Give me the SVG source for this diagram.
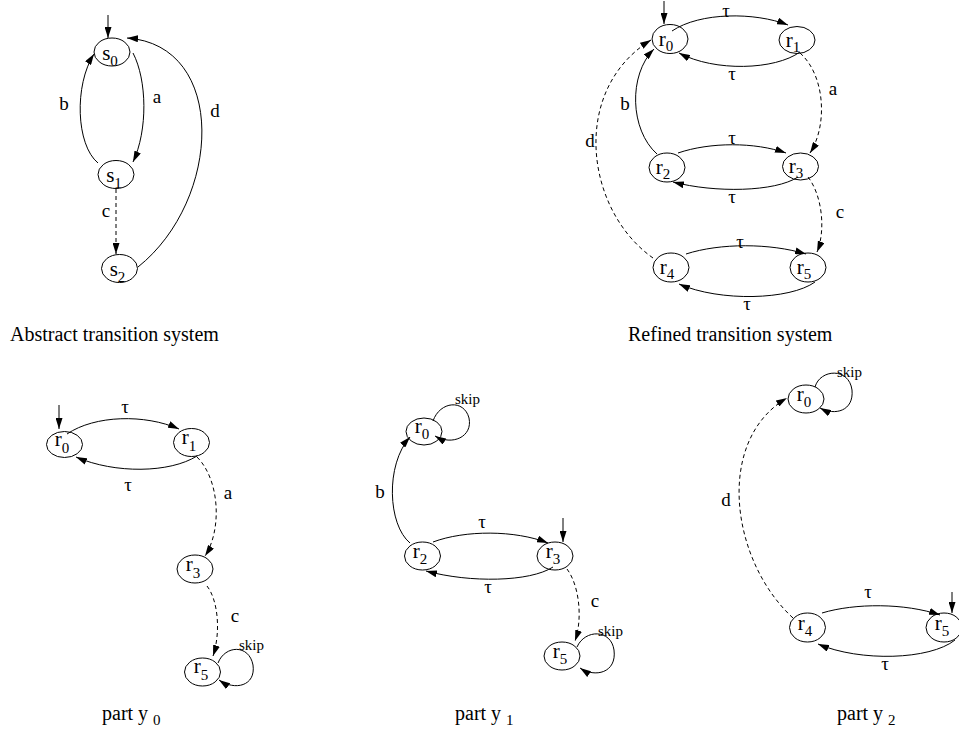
<svg xmlns="http://www.w3.org/2000/svg" width="959" height="736" viewBox="0 0 959 736">
<defs>
<marker id="ah" viewBox="0 0 11 7" refX="11" refY="3.5" markerWidth="11" markerHeight="7" orient="auto" markerUnits="userSpaceOnUse"><path d="M0,0 L11,3.5 L0,7 z" fill="#000"/></marker>
<style>
.n{fill:none;stroke:#000;stroke-width:1}
.e{fill:none;stroke:#000;stroke-width:1;marker-end:url(#ah)}
.d{stroke-dasharray:4 3}
text{font-family:"Liberation Serif","Times New Roman",serif;fill:#000}
.nl{font-size:21px;text-anchor:middle}
.sub{font-size:15px}
.el{font-size:19px;text-anchor:middle}
.sk{font-size:15px}
.cap{font-size:20px}
</style>
</defs>
<rect width="959" height="736" fill="#fff"/>

<!-- Panel 1: Abstract transition system -->
<g id="p1-s0"><ellipse class="n" cx="112" cy="52" rx="18" ry="14"/><text class="nl" x="110" y="60">s<tspan class="sub" dy="6">0</tspan></text></g>
<g id="p1-s1"><ellipse class="n" cx="116" cy="174.5" rx="18" ry="14"/><text class="nl" x="114" y="182">s<tspan class="sub" dy="6">1</tspan></text></g>
<g id="p1-s2"><ellipse class="n" cx="119.5" cy="268.5" rx="18" ry="14"/><text class="nl" x="117.5" y="276">s<tspan class="sub" dy="6">2</tspan></text></g>
<g id="p1-edges">
<path class="e" d="M108,15 L108,38"/>
<path class="e" d="M133,53 C147,80 148,130 133,162"/>
<path class="e" d="M98,163 C76,145 74,85 94,54"/>
<path class="e d" d="M116,189 L116,254"/>
<path class="e" d="M138,267 C222,200 228,45 127,38"/>
<text class="el" x="157" y="103">a</text>
<text class="el" x="64" y="110">b</text>
<text class="el" x="106" y="217">c</text>
<text class="el" x="215" y="117">d</text>
</g>
<text class="cap" x="10" y="341">Abstract transition system</text>

<!-- Panel 2: Refined transition system -->
<g id="p2-r0"><ellipse class="n" cx="670" cy="39" rx="18" ry="14.5"/><text class="nl" x="666" y="46">r<tspan class="sub" dy="5">0</tspan></text></g>
<g id="p2-r1"><ellipse class="n" cx="797" cy="40" rx="18" ry="13.5"/><text class="nl" x="793" y="47">r<tspan class="sub" dy="5">1</tspan></text></g>
<g id="p2-r2"><ellipse class="n" cx="667" cy="167.5" rx="18" ry="14.5"/><text class="nl" x="663" y="174">r<tspan class="sub" dy="5">2</tspan></text></g>
<g id="p2-r3"><ellipse class="n" cx="800.5" cy="166.5" rx="18" ry="13.5"/><text class="nl" x="796" y="173">r<tspan class="sub" dy="5">3</tspan></text></g>
<g id="p2-r4"><ellipse class="n" cx="671" cy="267.5" rx="18" ry="14.5"/><text class="nl" x="667" y="274">r<tspan class="sub" dy="5">4</tspan></text></g>
<g id="p2-r5"><ellipse class="n" cx="808" cy="267.5" rx="18" ry="14.5"/><text class="nl" x="804" y="274">r<tspan class="sub" dy="5">5</tspan></text></g>
<g id="p2-edges">
<path class="e" d="M664,1 L664,24"/>
<path class="e" d="M672,31 C700,12 755,12 788,25"/>
<path class="e" d="M800,52 C775,70 715,72 679,53"/>
<path class="e d" d="M800,53 C825,75 828,125 810,153"/>
<path class="e" d="M657,154 C630,130 628,75 654,49"/>
<path class="e d" d="M653,258 C585,210 570,90 651,40"/>
<path class="e" d="M678,153 C710,142 755,142 786,153"/>
<path class="e" d="M798,177 C775,192 715,193 673,182"/>
<path class="e d" d="M808,177 C822,195 826,230 817,252"/>
<path class="e" d="M686,254 C720,243 770,243 806,254"/>
<path class="e" d="M815,282 C790,300 720,302 679,284"/>
<text class="el" x="726" y="17">τ</text>
<text class="el" x="732" y="80">τ</text>
<text class="el" x="833" y="95">a</text>
<text class="el" x="625" y="110">b</text>
<text class="el" x="590" y="147">d</text>
<text class="el" x="732" y="144">τ</text>
<text class="el" x="732" y="203">τ</text>
<text class="el" x="840" y="218">c</text>
<text class="el" x="740" y="248">τ</text>
<text class="el" x="747" y="310">τ</text>
</g>
<text class="cap" x="628" y="341">Refined transition system</text>

<!-- Panel 3: part y0 -->
<g id="p3-r0"><ellipse class="n" cx="64.5" cy="444.5" rx="18" ry="13"/><text class="nl" x="62" y="446">r<tspan class="sub" dy="7">0</tspan></text></g>
<g id="p3-r1"><ellipse class="n" cx="191.5" cy="442.5" rx="18" ry="14"/><text class="nl" x="189" y="444">r<tspan class="sub" dy="7">1</tspan></text></g>
<g id="p3-r3"><ellipse class="n" cx="195" cy="569" rx="18" ry="14"/><text class="nl" x="193" y="571">r<tspan class="sub" dy="7">3</tspan></text></g>
<g id="p3-r5"><ellipse class="n" cx="202.5" cy="672" rx="18" ry="14"/><text class="nl" x="201" y="673">r<tspan class="sub" dy="7">5</tspan></text></g>
<g id="p3-edges">
<path class="e" d="M59,405 L59,429"/>
<path class="e" d="M67,434 C95,415 145,414 179,429"/>
<path class="e" d="M197,456 C170,473 115,474 76,457"/>
<path class="e d" d="M197,457 C220,480 222,530 205,556"/>
<path class="e d" d="M207,586 C218,600 221,632 213,656"/>
<path class="e" d="M218,663 C225,645 249,644 253,665 C256,686 235,691 219,680"/>
<text class="el" x="125" y="413">τ</text>
<text class="el" x="128" y="491">τ</text>
<text class="el" x="228" y="499">a</text>
<text class="el" x="235" y="622">c</text>
<text class="sk" x="239" y="650">skip</text>
</g>
<text class="cap" x="102" y="720">part y <tspan class="sub" dy="5">0</tspan></text>

<!-- Panel 4: part y1 -->
<g id="p4-r0"><ellipse class="n" cx="424" cy="431.5" rx="18" ry="13.5"/><text class="nl" x="422" y="433">r<tspan class="sub" dy="6">0</tspan></text></g>
<g id="p4-r2"><ellipse class="n" cx="422.5" cy="556" rx="18" ry="14"/><text class="nl" x="420" y="558">r<tspan class="sub" dy="6">2</tspan></text></g>
<g id="p4-r3"><ellipse class="n" cx="555" cy="556" rx="18" ry="14"/><text class="nl" x="553" y="558">r<tspan class="sub" dy="6">3</tspan></text></g>
<g id="p4-r5"><ellipse class="n" cx="562" cy="656" rx="18" ry="14"/><text class="nl" x="560" y="658">r<tspan class="sub" dy="6">5</tspan></text></g>
<g id="p4-edges">
<path class="e" d="M433,421 C440,401 464,399 469,418 C473,437 452,446 435,436"/>
<path class="e" d="M410,543 C388,525 385,465 410,437"/>
<path class="e" d="M433,542 C465,530 515,530 548,543"/>
<path class="e" d="M553,567 C530,582 470,583 426,571"/>
<path class="e" d="M563,518 L563,542"/>
<path class="e d" d="M567,569 C579,585 583,618 575,641"/>
<path class="e" d="M577,647 C585,629 611,629 614,650 C617,673 595,678 580,668"/>
<text class="sk" x="455" y="404">skip</text>
<text class="el" x="380" y="498">b</text>
<text class="el" x="482" y="528">τ</text>
<text class="el" x="488" y="593">τ</text>
<text class="el" x="595" y="607">c</text>
<text class="sk" x="598" y="636">skip</text>
</g>
<text class="cap" x="455" y="720">part y <tspan class="sub" dy="5">1</tspan></text>

<!-- Panel 5: part y2 -->
<g id="p5-r0"><ellipse class="n" cx="806" cy="399" rx="18" ry="14"/><text class="nl" x="804" y="401">r<tspan class="sub" dy="6">0</tspan></text></g>
<g id="p5-r4"><ellipse class="n" cx="807.5" cy="627.5" rx="18" ry="14.5"/><text class="nl" x="805" y="630">r<tspan class="sub" dy="6">4</tspan></text></g>
<g id="p5-r5"><ellipse class="n" cx="944" cy="627.5" rx="18" ry="14.5"/><text class="nl" x="942" y="630">r<tspan class="sub" dy="6">5</tspan></text></g>
<g id="p5-edges">
<path class="e" d="M815,387 C820,369 849,367 852,390 C854,411 835,416 820,408"/>
<path class="e d" d="M793,618 C730,560 715,440 787,398"/>
<path class="e" d="M822,613 C855,603 905,603 940,615"/>
<path class="e" d="M955,640 C930,660 860,662 818,644"/>
<path class="e" d="M952,592 L952,613"/>
<text class="sk" x="837" y="377">skip</text>
<text class="el" x="726" y="506">d</text>
<text class="el" x="868" y="598">τ</text>
<text class="el" x="885" y="670">τ</text>
</g>
<text class="cap" x="837" y="720">part y <tspan class="sub" dy="5">2</tspan></text>
</svg>
